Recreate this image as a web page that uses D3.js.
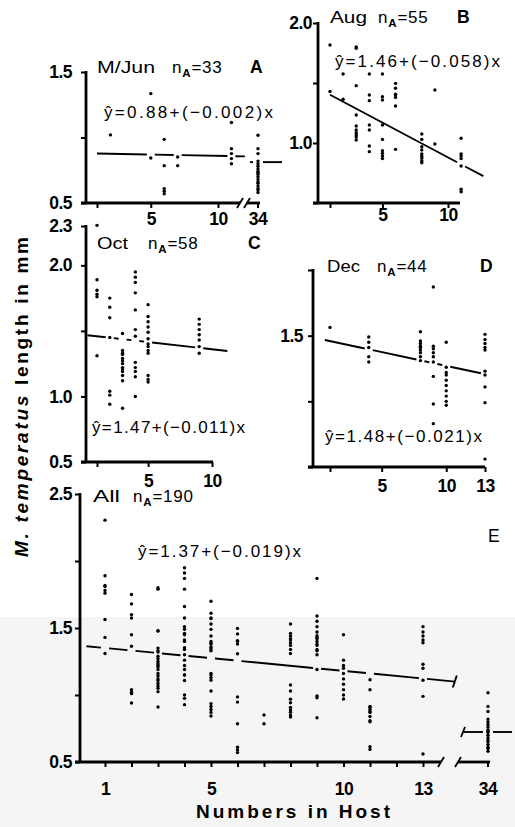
<!DOCTYPE html>
<html>
<head>
<meta charset="utf-8">
<script src="https://cdn.jsdelivr.net/npm/d3@7"></script>
<style>
  body { margin: 0; background: #fff; }
  svg { display: block; }
</style>
</head>
<body>
<svg id="chart" width="515" height="827"></svg>
<script>
// --- Data: [host number, [lengths in mm]] per column ---
var mayJunPts = [
  [2, [1.02]],
  [5, [1.335, 0.843]],
  [6, [0.986, 0.785, 0.61, 0.59, 0.57]],
  [7, [0.851, 0.785]],
  [11, [1.114, 0.915, 0.877, 0.839, 0.80]],
  [34, [1.017, 0.915, 0.877, 0.82, 0.80, 0.78, 0.76, 0.74, 0.73, 0.72, 0.70, 0.68, 0.66, 0.65, 0.63, 0.61, 0.60, 0.58]]
];
var augPts = [
  [1, [1.817, 1.43]],
  [2, [1.575, 1.364]],
  [3, [1.80, 1.79, 1.478, 1.233, 1.142, 1.108, 1.086, 1.067, 1.05, 1.025]],
  [4, [1.575, 1.40, 1.353, 1.15, 1.108, 0.975, 0.928]],
  [5, [1.575, 1.386, 1.358, 1.15, 1.03, 0.936, 0.914, 0.892, 0.87]],
  [6, [1.497, 1.456, 1.406, 1.40, 1.38, 1.308, 0.947]],
  [8, [1.075, 1.03, 0.969, 0.942, 0.908, 0.89, 0.872, 0.85, 0.836]],
  [9, [1.442, 0.992]],
  [11, [1.039, 0.908, 0.892, 0.87, 0.808, 0.614, 0.594]]
];
var octPts = [
  [1, [2.305, 1.89, 1.81, 1.78, 1.76, 1.31]],
  [2, [1.75, 1.68, 1.60, 1.45, 1.04, 1.01, 0.94]],
  [3, [1.48, 1.35, 1.33, 1.32, 1.29, 1.27, 1.25, 1.22, 1.21, 1.19, 1.16, 1.12, 0.91]],
  [4, [1.95, 1.91, 1.87, 1.79, 1.66, 1.51, 1.46, 1.26, 1.22, 1.19, 1.15, 1.00]],
  [5, [1.70, 1.61, 1.57, 1.53, 1.49, 1.44, 1.40, 1.38, 1.35, 1.33, 1.16, 1.13, 1.11]],
  [9, [1.59, 1.55, 1.51, 1.47, 1.43, 1.38, 1.33]]
];
var decPts = [
  [1, [1.563]],
  [4, [1.49, 1.45, 1.41, 1.34, 1.30]],
  [8, [1.53, 1.46, 1.44, 1.42, 1.41, 1.39, 1.37, 1.34, 1.31]],
  [9, [1.87, 1.42, 1.40, 1.37, 1.34, 1.30, 1.19, 0.98, 0.83]],
  [10, [1.45, 1.26, 1.22, 1.20, 1.16, 1.12, 1.08, 1.04, 1.00, 0.97]],
  [13, [1.51, 1.47, 1.44, 1.41, 1.39, 1.23, 1.20, 1.11, 0.99, 0.56]]
];

var panelNames = ['M/Jun', 'Aug', 'Oct', 'Dec', 'All'];
var panelLetters = ['A', 'B', 'C', 'D', 'E'];
var sampleSizes = [33, 55, 58, 44, 190];
var fitIntercept = [0.88, 1.46, 1.47, 1.48, 1.37];
var fitSlope = [-0.002, -0.058, -0.011, -0.021, -0.019];

// "All" panel = every sample pooled
function mergeCols(lists) {
  var byX = {};
  lists.forEach(function(list) {
    list.forEach(function(c) {
      byX[c[0]] = (byX[c[0]] || []).concat(c[1]);
    });
  });
  return Object.keys(byX).map(Number).sort(d3.ascending).map(function(x) { return [x, byX[x]]; });
}
var allPts = mergeCols([mayJunPts, augPts, octPts, decPts]);

var FONT = '"Liberation Sans", Arial, Helvetica, sans-serif';
var svg = d3.select('#chart').attr('font-family', FONT);

// faint grey tone on lower part of the scan
svg.append('rect').attr('x', 0).attr('y', 617).attr('width', 515).attr('height', 210).attr('fill', '#f5f5f5');

// --- Panel layouts ---
var panels = [
  { pts: mayJunPts, xs: d3.scaleLinear([1, 10], [97, 218]), ys: d3.scaleLinear([0.5, 1.5], [203, 72]),
    axisX: 86, axisRight: 240, yTicks: [0.5, 1, 1.5], yLabels: [0.5, 1.5], yPad: 9,
    xTicks: [1, 5, 10], xLabels: [5, 10], xPad: 5, line: [1, 12], tol: 0.06,
    brk: { s1: 240, s2: 247, end: 260, p34: 258, fit: [250, 282] },
    title: { x: 97, nx: 172, lx: 250, y: 73, nameLen: 58 }, eq: { x: 104, y: 118, len: 169 } },
  { pts: augPts, xs: d3.scaleLinear([1, 10], [330, 448]), ys: d3.scaleLinear([0.5, 2.0], [203, 23]),
    axisX: 318, axisRight: 460, yTicks: [0.5, 1, 1.5, 2], yLabels: [1, 2], yPad: 1,
    xTicks: [1, 5, 10], xLabels: [5, 10], xPad: 1, line: [1, 12.7], tol: 0.015,
    title: { x: 330, nx: 378, lx: 457, y: 23, nameLen: 37 }, eq: { x: 335, y: 67, len: 165 } },
  { pts: octPts, xs: d3.scaleLinear([1, 10], [97, 212]), ys: d3.scaleLinear([0.5, 2.3], [462, 226]),
    axisX: 86, axisRight: 213, yTicks: [0.5, 1, 1.5, 2, 2.3], yLabels: [0.5, 1, 2, 2.3], yPad: 9,
    xTicks: [1, 5, 10], xLabels: [5, 10], xPad: 8, line: [0.25, 11.2], tol: 0.06,
    title: { x: 97, nx: 148, lx: 248, y: 249, nameLen: 31 }, eq: { x: 92, y: 433, len: 153 } },
  { pts: decPts, xs: d3.scaleLinear([1, 13], [330, 485]), ys: d3.scaleLinear([0.5, 2.0], [467, 270]),
    axisX: 313, axisRight: 485, yTicks: [0.5, 1, 1.5, 2], yLabels: [1.5], yPad: 5,
    xTicks: [1, 5, 10, 13], xLabels: [5, 10, 13], xPad: 8, line: [0.6, 13], tol: 0.06,
    title: { x: 327, nx: 377, lx: 480, y: 272, nameLen: 33 }, eq: { x: 325, y: 442, len: 157 } },
  { pts: allPts, xs: d3.scaleLinear([1, 13], [105, 423]), ys: d3.scaleLinear([0.5, 2.5], [762, 494]),
    axisX: 80, axisRight: 441, yTicks: [0.5, 1, 1.5, 2, 2.5], yLabels: [0.5, 1.5, 2.5], yPad: 3,
    xTicks: d3.range(1, 14), xLabels: [1, 5, 10, 13], xPad: 16, line: [0.3, 14.2], tol: 0.06, endTick: true,
    brk: { s1: 441, s2: 458, end: 490, p34: 488, fit: [463, 512], startTick: true },
    title: { x: 93, nx: 133, lx: 488, ly: 542, y: 502, nameLen: 27, plainLetter: true },
    eq: { x: 138, y: 557, len: 163 } }
];

function drawPanel(p, i) {
  var g = svg.append('g');
  var xs = p.xs, ys = p.ys;
  var yBot = ys.range()[0], yTop = ys.range()[1];
  var a = fitIntercept[i], b = fitSlope[i];

  // ticks + labels through d3 axes
  var yAxis = d3.axisLeft(ys).tickValues(p.yTicks).tickSize(5).tickPadding(p.yPad)
    .tickFormat(function(d) { return p.yLabels.indexOf(d) >= 0 ? d.toFixed(1) : ''; });
  var xAxis = d3.axisBottom(xs).tickValues(p.xTicks).tickSize(5).tickPadding(p.xPad)
    .tickFormat(function(d) { return p.xLabels.indexOf(d) >= 0 ? d : ''; });
  var ya = g.append('g').attr('transform', 'translate(' + p.axisX + ',0)').call(yAxis);
  var xa = g.append('g').attr('transform', 'translate(0,' + yBot + ')').call(xAxis);
  [ya, xa].forEach(function(ax) {
    ax.attr('font-family', FONT).attr('font-size', 17.5).attr('font-weight', 'bold');
    ax.select('.domain').remove();
    ax.selectAll('.tick line').attr('stroke', '#000').attr('stroke-width', 2);
    ax.selectAll('.tick text').attr('fill', '#000').attr('letter-spacing', -0.5);
  });

  // axis lines
  g.append('line').attr('x1', p.axisX).attr('x2', p.axisX).attr('y1', yTop - 1).attr('y2', yBot + 1)
    .attr('stroke', '#000').attr('stroke-width', 2.8);
  g.append('line').attr('x1', p.axisX - 5).attr('x2', p.axisRight).attr('y1', yBot).attr('y2', yBot)
    .attr('stroke', '#000').attr('stroke-width', 2.8);

  // broken axis to 34
  if (p.brk) {
    var k = p.brk;
    [k.s1, k.s2].forEach(function(sx) {
      g.append('line').attr('x1', sx - 3).attr('y1', yBot + 5).attr('x2', sx + 3).attr('y2', yBot - 5)
        .attr('stroke', '#000').attr('stroke-width', 1.8);
    });
    g.append('line').attr('x1', k.s2).attr('x2', k.end).attr('y1', yBot).attr('y2', yBot)
      .attr('stroke', '#000').attr('stroke-width', 2.8);
    g.append('line').attr('x1', k.p34).attr('x2', k.p34).attr('y1', yBot).attr('y2', yBot + 5)
      .attr('stroke', '#000').attr('stroke-width', 2);
    g.append('text').attr('x', k.p34).attr('y', yBot + 5 + p.xPad).attr('dy', '0.71em')
      .attr('text-anchor', 'middle').attr('font-size', 17.5).attr('font-weight', 'bold')
      .attr('letter-spacing', -0.5).text('34');
  }

  // regression line, broken where the point columns cross it
  var gaps = [];
  p.pts.forEach(function(c) {
    if (c[0] === 34) return;
    var fy = a + b * c[0];
    if (c[1].some(function(v) { return Math.abs(v - fy) < p.tol; })) {
      var cx = xs(c[0]);
      gaps.push([cx - 4, cx + 4]);
    }
  });
  gaps.sort(function(u, v) { return u[0] - v[0]; });
  var from = xs(p.line[0]), to = xs(p.line[1]), cur = from, segs = [];
  gaps.forEach(function(gp) {
    if (gp[0] > cur && gp[0] < to) segs.push([cur, gp[0]]);
    cur = Math.max(cur, gp[1]);
  });
  if (cur < to) segs.push([cur, to]);
  function fitY(px) { return ys(a + b * xs.invert(px)); }
  segs.forEach(function(s) {
    g.append('line').attr('x1', s[0]).attr('y1', fitY(s[0])).attr('x2', s[1]).attr('y2', fitY(s[1]))
      .attr('stroke', '#000').attr('stroke-width', 1.9);
  });
  if (p.endTick) {
    g.append('line').attr('x1', to + 2).attr('y1', fitY(to) - 6).attr('x2', to - 2).attr('y2', fitY(to) + 6)
      .attr('stroke', '#000').attr('stroke-width', 1.9);
  }
  if (p.brk) {
    var y34 = ys(a + b * 34), f = p.brk.fit;
    [[f[0], p.brk.p34 - 5], [p.brk.p34 + 5, f[1]]].forEach(function(s) {
      g.append('line').attr('x1', s[0]).attr('x2', s[1]).attr('y1', y34).attr('y2', y34)
        .attr('stroke', '#000').attr('stroke-width', 1.9);
    });
    if (p.brk.startTick) {
      g.append('line').attr('x1', f[0] + 2).attr('y1', y34 - 5).attr('x2', f[0] - 2).attr('y2', y34 + 5)
        .attr('stroke', '#000').attr('stroke-width', 1.9);
    }
  }

  // points
  var flat = [];
  p.pts.forEach(function(c) { c[1].forEach(function(v) { flat.push({ x: c[0], y: v }); }); });
  g.append('g').selectAll('circle').data(flat).join('circle')
    .attr('cx', function(d) { return d.x === 34 ? p.brk.p34 : xs(d.x); })
    .attr('cy', function(d) { return ys(d.y); })
    .attr('r', 1.7)
    .attr('fill', '#000');

  // titles
  var t = p.title;
  g.append('text').attr('x', t.x).attr('y', t.y).attr('font-size', 17)
    .attr('textLength', t.nameLen).attr('lengthAdjust', 'spacingAndGlyphs').text(panelNames[i]);
  var nt = g.append('text').attr('x', t.nx).attr('y', t.y).attr('font-size', 17).attr('letter-spacing', 0.8);
  nt.append('tspan').text('n');
  nt.append('tspan').attr('dy', 4).attr('font-size', 11.5).attr('font-weight', 'bold').text('A');
  nt.append('tspan').attr('dy', -4).text('=' + sampleSizes[i]);
  g.append('text').attr('x', t.lx).attr('y', t.ly || t.y).attr('font-size', 17.5)
    .attr('font-weight', t.plainLetter ? 'normal' : 'bold').text(panelLetters[i]);

  // equation
  g.append('text').attr('x', p.eq.x).attr('y', p.eq.y).attr('font-size', 17)
    .attr('textLength', p.eq.len).attr('lengthAdjust', 'spacing')
    .text('\u0177=' + a.toFixed(2) + '+(\u2212' + Math.abs(b).toFixed(3) + ')x');
}

panels.forEach(drawPanel);

// shared axis titles
var yt = svg.append('text').attr('transform', 'translate(28,397) rotate(-90)')
  .attr('text-anchor', 'middle').attr('font-size', 19).attr('font-weight', 'bold')
  .attr('textLength', 320).attr('lengthAdjust', 'spacing');
yt.append('tspan').attr('font-style', 'italic').text('M. temperatus');
yt.append('tspan').text(' length in mm');

svg.append('text').attr('x', 196).attr('y', 818).attr('font-size', 19).attr('font-weight', 'bold')
  .attr('textLength', 194).attr('lengthAdjust', 'spacing').text('Numbers in Host');
</script>
</body>
</html>
